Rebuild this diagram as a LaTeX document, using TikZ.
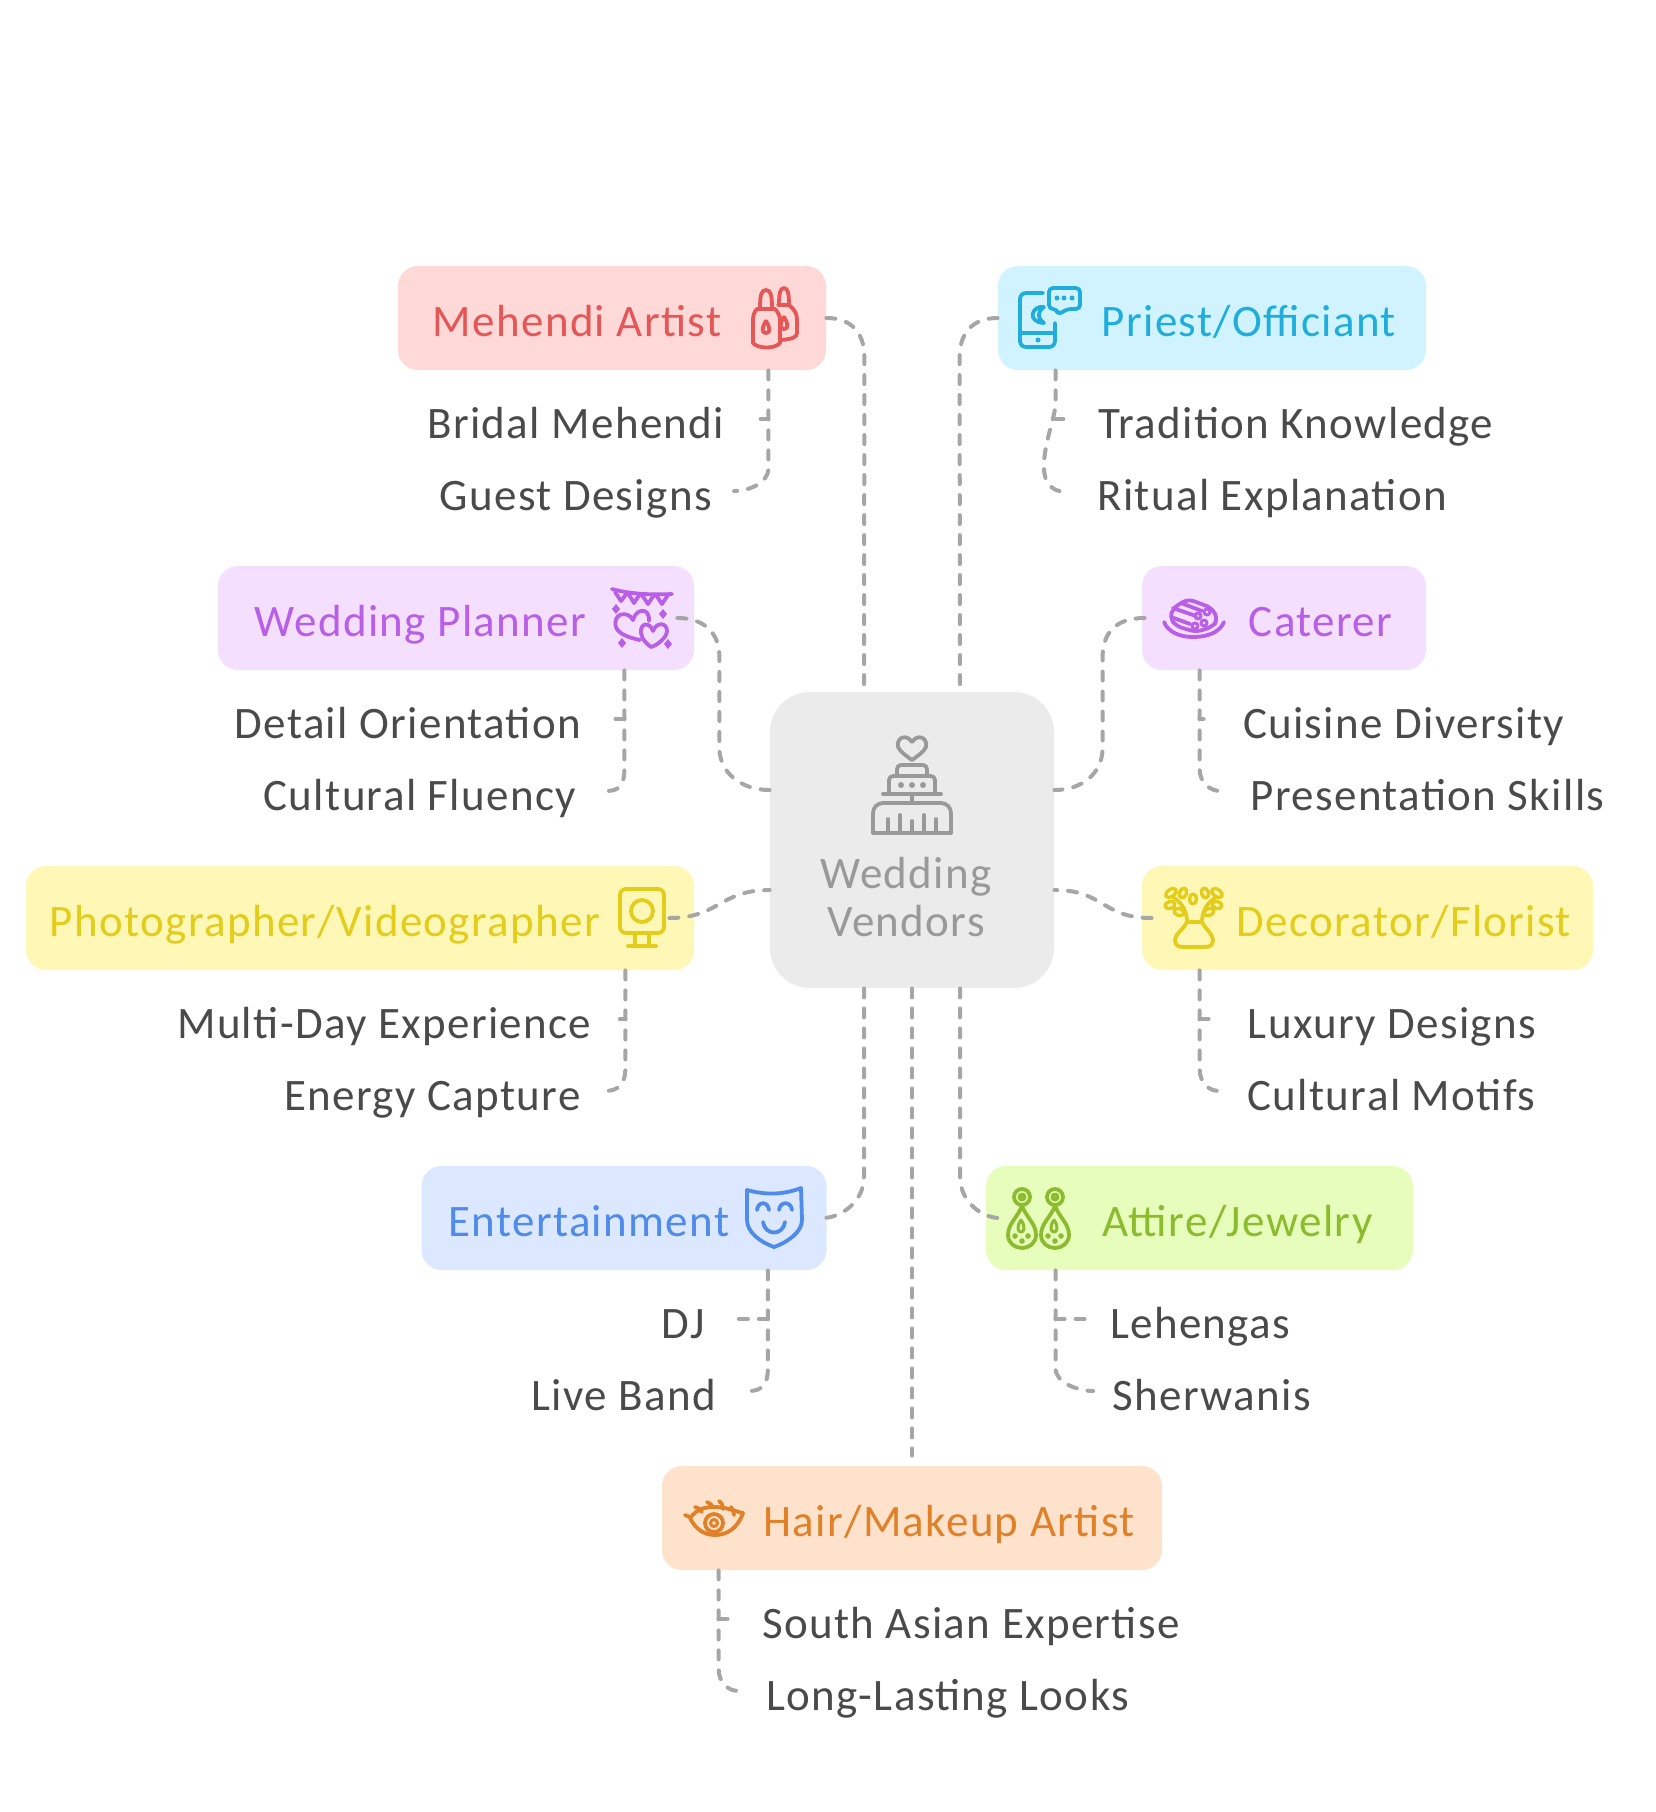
\documentclass[tikz,border=0pt]{standalone}
\usepackage{fontspec}
\setmainfont{Carlito}[LetterSpace=3]
\definecolor{hubfill}{HTML}{EBEBEB}
\definecolor{hubink}{HTML}{999999}
\definecolor{linkgray}{HTML}{A6A6A6}
\definecolor{itemgray}{HTML}{4A4A4A}
\definecolor{redfill}{HTML}{FFD8D8}
\definecolor{redink}{HTML}{E55757}
\definecolor{cyanfill}{HTML}{D1F3FF}
\definecolor{cyanink}{HTML}{1FAEDB}
\definecolor{purplefill}{HTML}{F4DFFF}
\definecolor{purpleink}{HTML}{B95EE6}
\definecolor{yellowfill}{HTML}{FFF7B5}
\definecolor{yellowink}{HTML}{E3CD1A}
\definecolor{bluefill}{HTML}{DCE8FF}
\definecolor{blueink}{HTML}{4F8BEA}
\definecolor{greenfill}{HTML}{E7FDBC}
\definecolor{greenink}{HTML}{8DBB2E}
\definecolor{orangefill}{HTML}{FFE2CC}
\definecolor{orangeink}{HTML}{E08128}
\tikzset{
    label font/.style={font=\fontsize{22.5}{24}\selectfont},
    hubbox/.style={fill=hubfill, text=hubink, rounded corners=20pt, minimum width=142pt, minimum height=148pt, inner sep=0pt, align=center, label font},
    box/.style={fill=#1fill, text=#1ink, rounded corners=10pt, minimum height=52pt, inner sep=0pt, text height=21pt, text depth=3pt, label font},
    item/.style={text=itemgray, inner sep=0pt, text height=21pt, text depth=2pt, label font},
    link/.style={draw=linkgray, line width=2pt, line cap=round, rounded corners=1.5pt, dash pattern=on 4.5pt off 5.5pt},
    icon/.style={draw=#1ink, line width=1.9pt, line cap=round, line join=round},
    dots/.style={fill=#1ink}
}
\begin{document}
\begin{tikzpicture}[x=0.5pt,y=-0.5pt]
    \useasboundingbox (0,0) rectangle (1656,1812);

    % vendor boxes
    \node[hubbox] (hub) at (912,840) {\mbox{}\\[49pt]Wedding\kern6pt\\Vendors\kern6pt};
    \node[box=red, minimum width=214pt] (mehendi) at (612,318) {Mehendi Artist\hspace*{35pt}};
    \node[box=cyan, minimum width=214pt] (priest) at (1212,318) {\hspace*{37pt}Priest/Officiant};
    \node[box=purple, minimum width=238pt] (planner) at (456,618) {Wedding Planner\hspace*{35.5pt}};
    \node[box=purple, minimum width=142pt] (caterer) at (1284,618) {\hspace*{36.5pt}Caterer};
    \node[box=yellow, minimum width=334pt] (photographer) at (360,918) {Photographer/Videographer\hspace*{35pt}};
    \node[box=yellow, minimum width=225.5pt] (decorator) at (1367.5,918) {\hspace*{36.5pt}Decorator/Florist};
    \node[box=blue, minimum width=202.5pt] (entertainment) at (624,1218) {Entertainment\hspace*{35pt}};
    \node[box=green, minimum width=213.5pt] (attire) at (1199.5,1218) {\hspace*{38pt}Attire/Jewelry};
    \node[box=orange, minimum width=250pt] (hair) at (912,1518) {\hspace*{37pt}Hair/Makeup Artist};

    % items
    \node[item, minimum width=145.5pt] (bridal) at (575.7,419) {Bridal Mehendi};
    \node[item, minimum width=134.5pt] (guest) at (575.7,491) {Guest Designs};
    \node[item, minimum width=199pt] (tradition) at (1295.8,419) {Tradition Knowledge};
    \node[item, minimum width=177.5pt] (ritual) at (1272.3,491) {Ritual Explanation};
    \node[item, minimum width=172pt] (detail) at (407.9,719) {Detail Orientation};
    \node[item, minimum width=153pt] (fluency) at (419.9,791) {Cultural Fluency};
    \node[item, minimum width=155.5pt] (cuisine) at (1403.5,719) {Cuisine Diversity};
    \node[item, minimum width=176.5pt] (presentation) at (1427.6,791) {Presentation Skills};
    \node[item, minimum width=203.5pt] (multiday) at (384.3,1019) {Multi-Day Experience};
    \node[item, minimum width=147.5pt] (energy) at (432.4,1091) {Energy Capture};
    \node[item, minimum width=143pt] (luxury) at (1392,1019) {Luxury Designs};
    \node[item, minimum width=142.5pt] (motifs) at (1391.5,1091) {Cultural Motifs};
    \node[item, minimum width=23.5pt] (dj) at (683,1319) {DJ};
    \node[item, minimum width=92.5pt] (band) at (623.9,1391) {Live Band};
    \node[item, minimum width=90.5pt] (lehengas) at (1200.1,1319) {Lehengas};
    \node[item, minimum width=99pt] (sherwanis) at (1211.6,1391) {Sherwanis};
    \node[item, minimum width=210pt] (southasian) at (971.1,1619) {South Asian Expertise};
    \node[item, minimum width=186.5pt] (longlasting) at (947.6,1691) {Long-Lasting Looks};

    % hub links
    \draw[link] (mehendi.east) .. controls +(26,0) and +(0,-26) .. ++(38,42) -- ([xshift=-24pt]hub.north);
    \draw[link] (priest.west) .. controls +(-26,0) and +(0,-26) .. ++(-38,42) -- ([xshift=24pt]hub.north);
    \draw[link] ([xshift=-8.5pt]planner.east) .. controls +(28,0) and +(0,-26) .. ++(42,42) -- ++(0,85) .. controls +(0,28) and +(-28,0) .. ([yshift=25pt]hub.west);
    \draw[link] ([xshift=1.5pt]caterer.west) .. controls +(-30,0) and +(0,-26) .. ++(-42,42) -- ++(0,85) .. controls +(0,28) and +(28,0) .. ([yshift=25pt]hub.east);
    \draw[link] ([xshift=-12.5pt]photographer.east) .. controls +(50,0) and +(-50,0) .. ([yshift=-25pt]hub.west);
    \draw[link] ([xshift=5pt]decorator.west) .. controls +(-50,0) and +(50,0) .. ([yshift=-25pt]hub.east);
    \draw[link] ([xshift=-24pt]hub.south) -- ++(0,185) .. controls +(0,30) and +(16,0) .. ([xshift=-2pt]entertainment.east);
    \draw[link] ([xshift=24pt]hub.south) -- ++(0,185) .. controls +(0,30) and +(-16,0) .. ([xshift=7pt]attire.west);
    \draw[link, shorten >=5pt] (hub.south) -- (hair.north);

    % item links
    \draw[link] ([xshift=-29pt]mehendi.south east |- bridal.east) -- ([xshift=18pt]bridal.east);
    \draw[link] ([xshift=-29pt]mehendi.south east) -- ++(0,95) .. controls +(0,18) and +(14,0) .. ([xshift=11pt]guest.east);
    \draw[link] ([xshift=29pt]priest.south west |- tradition.west) -- ([xshift=-16.5pt]tradition.west);
    \draw[link] ([xshift=29pt]priest.south west) -- ++(0,35) .. controls +(-4,25) and +(-30,-7) .. ([xshift=-17.5pt]ritual.west);
    \draw[link] ([xshift=-35pt]planner.south east |- detail.east) -- ([xshift=16pt]detail.east);
    \draw[link] ([xshift=-35pt]planner.south east) -- ++(0,95) .. controls +(0,18) and +(14,0) .. ([xshift=15pt]fluency.east);
    \draw[link] ([xshift=29pt]caterer.south west |- cuisine.west) -- ([xshift=-19.5pt]cuisine.west);
    \draw[link] ([xshift=29pt]caterer.south west) -- ++(0,95) .. controls +(0,18) and +(-10,0) .. ([xshift=-15pt]presentation.west);
    \draw[link] ([xshift=-34.5pt]photographer.south east |- multiday.east) -- ([xshift=14pt]multiday.east);
    \draw[link] ([xshift=-34.5pt]photographer.south east) -- ++(0,95) .. controls +(0,18) and +(14,0) .. ([xshift=12pt]energy.east);
    \draw[link] ([xshift=29pt]decorator.south west |- luxury.west) -- ([xshift=-19pt]luxury.west);
    \draw[link] ([xshift=29pt]decorator.south west) -- ++(0,95) .. controls +(0,18) and +(-10,0) .. ([xshift=-14pt]motifs.west);
    \draw[link] ([xshift=-29.5pt]entertainment.south east |- dj.east) -- ([xshift=13pt]dj.east);
    \draw[link] ([xshift=-29.5pt]entertainment.south east) -- ++(0,95) .. controls +(0,18) and +(14,0) .. ([xshift=16pt]band.east);
    \draw[link] ([xshift=35pt]attire.south west |- lehengas.west) -- ([xshift=-9pt]lehengas.west);
    \draw[link] ([xshift=35pt]attire.south west) -- ++(0,95) .. controls +(0,18) and +(-14,0) .. ([xshift=-9.5pt]sherwanis.west);
    \draw[link] ([xshift=28.5pt]hair.south west |- southasian.west) -- ([xshift=-14.5pt]southasian.west);
    \draw[link] ([xshift=28.5pt]hair.south west) -- ++(0,95) .. controls +(0,18) and +(-10,0) .. ([xshift=-11pt]longlasting.west);

    % cake
    \draw[icon=hub] (912,742) .. controls (906,733) and (896,738) .. (898,747) .. controls (900,752) and (908,757) .. (912,760) .. controls (916,757) and (924,752) .. (926,747) .. controls (928,738) and (918,733) .. (912,742);
    \draw[icon=hub, rounded corners=2pt] (897,775) -- (897,765) -- (927,765) -- (927,775);
    \draw[icon=hub, rounded corners=2pt] (889,793) -- (889,776) -- (935,776) -- (935,793);
    \draw[icon=hub] (883,794) -- (941,794) (912,794) -- (912,803);
    \draw[icon=hub, rounded corners=5pt] (873,833) -- (873,803) -- (951,803) -- (951,833);
    \draw[icon=hub] (873,833) -- (951,833) (888,833) -- (888,819) (900,833) -- (900,815) (912,833) -- (912,821) (924,833) -- (924,815) (936,833) -- (936,819);
    \fill[dots=hub] (901,785) circle [radius=3] (912,785) circle [radius=3] (923,785) circle [radius=3];

    % bottles
    \draw[icon=red] (779,305) .. controls (779,294) and (780,288) .. (784,288) .. controls (788,288) and (789,294) .. (789,305) -- (778,305);
    \draw[icon=red] (789,305) .. controls (795,310) and (797,314) .. (797,320) -- (797,333) .. controls (797,337) and (793,339) .. (781,340);
    \draw[icon=red] (784,317) .. controls (780,323) and (779,329) .. (784,329) .. controls (789,329) and (788,323) .. (784,317);
    \draw[icon=red, fill=redfill] (757,309) .. controls (754,312) and (753,316) .. (753,320) -- (753,343) .. controls (758,349) and (775,349) .. (780,343) -- (780,320) .. controls (780,316) and (778,312) .. (775,309) -- cycle;
    \draw[icon=red] (760,309) .. controls (760,296) and (761,290) .. (766,290) .. controls (771,290) and (772,296) .. (772,309);
    \draw[icon=red] (766,321) .. controls (762,327) and (761,333) .. (766,333) .. controls (771,333) and (770,327) .. (766,321);

    % phone and speech bubble
    \draw[icon=cyan, rounded corners=3pt] (1043,293) -- (1020,293) -- (1020,347) -- (1055,347) -- (1055,323);
    \draw[icon=cyan] (1020,333) -- (1055,333);
    \fill[dots=cyan] (1038,340) circle [radius=2.5];
    \draw[icon=cyan] (1044,307) .. controls (1032,305) and (1026,322) .. (1044,323) .. controls (1037,318) and (1037,312) .. (1044,307);
    \draw[icon=cyan, rounded corners=2pt] (1067,309) -- (1080,309) -- (1080,288) -- (1049,288) -- (1049,309) -- (1057,309) -- (1058,315) -- cycle;
    \fill[dots=cyan] (1057,298) circle [radius=2.5] (1064,298) circle [radius=2.5] (1072,298) circle [radius=2.5];

    % bunting and hearts
    \draw[icon=purple] (612,589) .. controls (630,594) and (650,595) .. (672,594);
    \draw[icon=purple] (615,592) -- (621,601) -- (627,593) (628,593) -- (634,603) -- (640,594) (642,595) -- (648,604) -- (654,595) (656,595) -- (662,604) -- (668,595);
    \fill[dots=purple] (616,604) -- (620,609) -- (616,614) -- (612,609) -- cycle (663,609) -- (667,614) -- (663,619) -- (659,614) -- cycle (622,638) -- (626,643) -- (622,648) -- (618,643) -- cycle (668,639) -- (672,644) -- (668,649) -- (664,644) -- cycle;
    \draw[icon=purple] (633,620) .. controls (628,610) and (612,613) .. (616,627) .. controls (618,634) and (630,638) .. (640,640);
    \draw[icon=purple] (633,620) .. controls (636,608) and (650,607) .. (649,621);
    \draw[icon=purple, fill=purplefill] (653,631) .. controls (650,622) and (640,622) .. (641,633) .. controls (642,640) and (647,644) .. (651,647) .. controls (658,645) and (667,637) .. (667,631) .. controls (667,622) and (656,622) .. (653,631);

    % plate of rolls
    \draw[icon=purple] (1164,622) .. controls (1168,632) and (1180,637) .. (1193,637) .. controls (1208,637) and (1220,632) .. (1224,622);
    \draw[icon=purple, rounded corners=3pt] (1188,599) -- (1212,608) -- (1218,620) -- (1212,627) -- (1196,632) -- (1176,626) -- (1170,618) -- (1173,608) -- cycle;
    \draw[icon=purple] (1173,608) -- (1196,616) (1181,603) -- (1202,611) (1171,617) -- (1190,624);
    \draw[icon=purple, line width=1.5pt] (1198,616) circle [radius=3] (1207,612) circle [radius=3] (1204,623) circle [radius=3] (1195,626) circle [radius=3];

    % camera on a stand
    \draw[icon=yellow, rounded corners=3pt] (620,889) rectangle (664,933);
    \draw[icon=yellow] (642,911) circle [radius=11];
    \draw[icon=yellow] (635,933) -- (635,946) (649,933) -- (649,946) (628,946) -- (656,946);

    % vase of leaves
    \draw[icon=yellow] (1187,922) .. controls (1183,930) and (1175,934) .. (1175,940) .. controls (1175,945) and (1178,947) .. (1183,947) -- (1205,947) .. controls (1210,947) and (1213,945) .. (1213,940) .. controls (1213,934) and (1206,930) .. (1202,922) -- cycle;
    \draw[icon=yellow] (1187,920) .. controls (1186,908) and (1180,902) .. (1173,897);
    \draw[icon=yellow] (1202,920) .. controls (1203,908) and (1209,902) .. (1216,897);
    \draw[icon=yellow, line width=1.7pt] (1171,893) circle [x radius=6, y radius=3.5, rotate=35] (1183,893) circle [x radius=5, y radius=3.5, rotate=70] (1193,899) circle [x radius=5, y radius=3.5, rotate=90] (1205,893) circle [x radius=5, y radius=3.5, rotate=110] (1217,893) circle [x radius=6, y radius=3.5, rotate=145] (1170,905) circle [x radius=5, y radius=3.5, rotate=15] (1179,912) circle [x radius=5, y radius=3.5, rotate=-20] (1209,912) circle [x radius=5, y radius=3.5, rotate=20] (1217,905) circle [x radius=5, y radius=3.5, rotate=-15];

    % mask
    \draw[icon=blue] (747,1190) .. controls (765,1195) and (783,1195) .. (801,1188) -- (802,1220) .. controls (802,1232) and (788,1242) .. (774,1247) .. controls (760,1242) and (747,1232) .. (747,1220) -- cycle;
    \draw[icon=blue] (757,1210) .. controls (758,1201) and (768,1201) .. (769,1210);
    \draw[icon=blue] (779,1210) .. controls (780,1201) and (791,1201) .. (792,1210);
    \draw[icon=blue] (763,1222) .. controls (765,1236) and (783,1236) .. (785,1222);

    % earrings
    \foreach \ex in {1022,1055} {
        \draw[icon=green] (\ex,1197) circle [radius=8] (\ex,1197) circle [radius=2.5];
        \draw[icon=green] (\ex,1206) .. controls (\ex-5,1218) and (\ex-14,1224) .. (\ex-14,1235) .. controls (\ex-14,1243) and (\ex-7,1248) .. (\ex,1248) .. controls (\ex+7,1248) and (\ex+14,1243) .. (\ex+14,1235) .. controls (\ex+14,1224) and (\ex+5,1218) .. (\ex,1206);
        \draw[icon=green, line width=1.5pt] (\ex-1,1220) .. controls (\ex-6,1227) and (\ex-4,1232) .. (\ex-1,1232) .. controls (\ex+2,1232) and (\ex+4,1227) .. (\ex-1,1220);
        \fill[dots=green] (\ex-7,1236) circle [radius=2.8] (\ex+6,1236) circle [radius=2.8] (\ex,1241) circle [radius=2.8];
    }

    % eye
    \draw[icon=orange] (690,1518) .. controls (698,1508) and (706,1507) .. (715,1507) .. controls (727,1507) and (737,1512) .. (743,1513) .. controls (738,1528) and (727,1535) .. (715,1535) .. controls (703,1535) and (695,1528) .. (690,1518);
    \draw[icon=orange] (714,1523) circle [radius=9];
    \draw[icon=orange, line width=1.5pt] (714,1523) circle [radius=3.5];
    \draw[icon=orange] (685,1515) -- (690,1517) (695,1507) .. controls (699,1508) and (701,1510) .. (702,1512) (707,1502) .. controls (710,1503) and (712,1505) .. (713,1507) (719,1501) .. controls (722,1503) and (723,1506) .. (723,1509) (731,1507) .. controls (733,1510) and (734,1512) .. (734,1515);
\end{tikzpicture}
\end{document}
